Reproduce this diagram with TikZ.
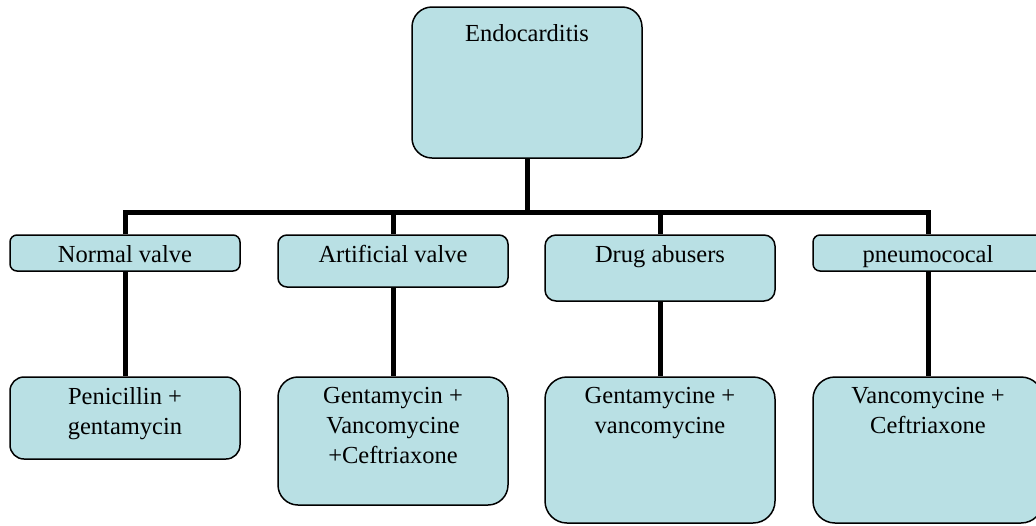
\documentclass[tikz,border=0pt]{standalone}
\usepackage{fontspec}
\setmainfont{Liberation Serif}
\usepackage{tikz}
\usetikzlibrary{positioning}
\usetikzlibrary{calc}
\usetikzlibrary{backgrounds}
\definecolor{boxblue}{RGB}{185,224,228}
\tikzset{basic box/.style={draw,fill=boxblue,line width=0.75pt}}
\tikzset{box/.style={basic box,rounded corners=#1,minimum width=115pt,inner sep=0pt},
         box/.default=4pt}
\tikzset{boxtext/.style={inner sep=0pt,
                         align=center,
                         font=\fontsize{12.25}{15}\selectfont}}
\tikzset{link/.style={draw,
                      line width=2.5pt}}

\begin{document}
\begin{tikzpicture}
    [
      x=0.5pt, y=-0.5pt,
    ]
    \clip (0,0) rectangle (1036,525);

    % root
    \node [box=10pt,minimum height=75.5pt] (endo) at (527,82.5) {};
    \node [boxtext,below=8.75pt of endo.north] (endoT) {Endocarditis};

    % valve groups
    \node [box=3.5pt,minimum height=18pt] (normal)     at (125,253) {};
    \node [box=4.5pt,minimum height=26pt] (artificial) at (393,261) {};
    \node [box=5.5pt,minimum height=33pt] (drug)       at (660,268) {};
    \node [box=3.5pt,minimum height=18pt] (pneumo)     at (928,253) {};
    \node [boxtext,below=5.25pt of normal.north]     (normalT)     {Normal valve};
    \node [boxtext,below=5.25pt of artificial.north] (artificialT) {Artificial valve};
    \node [boxtext,below=5.25pt of drug.north]       (drugT)       {Drug abusers};
    \node [boxtext,below=5.25pt of pneumo.north]     (pneumoT)     {pneumococal};

    % treatments
    \node [box=7pt,minimum height=41pt]  (penicillin)  at (125,418) {};
    \node [box=10pt,minimum height=64pt] (gentamycin)  at (393,441) {};
    \node [box=11pt,minimum height=73pt] (gentamycine) at (660,450) {};
    \node [box=11pt,minimum height=73pt] (vancomycine) at (928,450) {};
    \node [boxtext,below=5.25pt of penicillin.north]  (penicillinT)  {Penicillin +\\ gentamycin};
    \node [boxtext,below=5.25pt of gentamycin.north]  (gentamycinT)  {Gentamycin +\\ Vancomycine\\ +Ceftriaxone};
    \node [boxtext,below=5.25pt of gentamycine.north] (gentamycineT) {Gentamycine +\\ vancomycine};
    \node [boxtext,below=5.25pt of vancomycine.north] (vancomycineT) {Vancomycine +\\ Ceftriaxone};

    % connectors
    \coordinate (bus) at (0,212);
    \begin{scope}[on background layer]
      \draw [link] (normal.north) -- (normal.north |- bus) -| (pneumo.north);
      \foreach \a in {endo.south,artificial.north,drug.north}
        \draw [link] (\a) -- (\a |- bus);
      \foreach \a/\b in {normal/penicillin,artificial/gentamycin,drug/gentamycine,pneumo/vancomycine}
        \draw [link] (\a.south) -- (\b.north);
    \end{scope}

  \end{tikzpicture}
\end{document}
